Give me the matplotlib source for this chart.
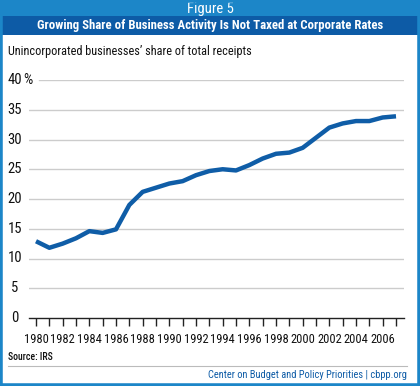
import matplotlib
matplotlib.use("Agg")
import matplotlib.pyplot as plt
import matplotlib.transforms as mtrans
from matplotlib.patches import Rectangle
from matplotlib.lines import Line2D
from matplotlib import font_manager

years = list(range(1980, 2008))
share = [12.9, 11.8, 12.5, 13.4, 14.6, 14.3, 14.9, 19.0, 21.2, 21.9, 22.6, 23.0,
         24.0, 24.7, 25.0, 24.8, 25.7, 26.8, 27.6, 27.8, 28.6, 30.3, 32.0, 32.7,
         33.1, 33.1, 33.7, 33.9]
yticks = [0, 5, 10, 15, 20, 25, 30, 35, 40]
xticks_major = list(range(1980, 2007, 2))

title_top = "Figure 5"
title = "Growing Share of Business Activity Is Not Taxed at Corporate Rates"
subtitle = "Unincorporated businesses\u2019 share of total receipts"
source = "Source: IRS"
credit = "Center on Budget and Policy Priorities | cbpp.org"

avail = {f.name for f in font_manager.fontManager.ttflist}
narrow = [f for f in ["Liberation Sans Narrow", "Roboto Condensed", "Open Sans Condensed"] if f in avail]
FONT = narrow + ["Liberation Sans", "DejaVu Sans"]
plt.rcParams['font.family'] = FONT

W, H = 420, 386
fig = plt.figure(figsize=(W / 100, H / 100), dpi=100)
fig.patch.set_facecolor("white")

def fx(px):
    return px / W

def fy(py):
    return 1 - py / H

LIGHT = "#1c86c8"
DARK = "#0d5ba6"
LINE = "#0f5da7"

# frame and bands
fig.patches.append(Rectangle((0, fy(16)), 1, 16 / H, transform=fig.transFigure,
                             facecolor=LIGHT, edgecolor="none", zorder=1))
fig.patches.append(Rectangle((0, fy(35)), 1, 19 / H, transform=fig.transFigure,
                             facecolor=DARK, edgecolor="none", zorder=1))
fig.patches.append(Rectangle((0, 0), 1, 1, transform=fig.transFigure, facecolor="none",
                             edgecolor=LIGHT, linewidth=4, zorder=10))
fig.text(0.5, fy(8.5), title_top, ha="center", va="center", color="white", fontsize=10.5)
fig.text(0.5, fy(26), title, ha="center", va="center", color="white", fontsize=9.2,
         fontweight="bold")
fig.text(fx(8), fy(51), subtitle, ha="left", va="center", color="#111111", fontsize=8.8)

# axes: 1980 at x=36, 2007 at x=396 ; 0 at y=318, 40 at y=80
x0, x1 = 29, 404
yb, yt = 318, 80
ax = fig.add_axes([fx(x0), fy(yb), (x1 - x0) / W, (yb - yt) / H])
ax.patch.set_alpha(0)
px_per_year = (396 - 36) / 27
xlim = (1980 - (36 - x0) / px_per_year, 2007 + (x1 - 396) / px_per_year)
ax.set_xlim(*xlim)
ax.set_ylim(0, 40)
for s in ["top", "right", "left"]:
    ax.spines[s].set_visible(False)
ax.spines["bottom"].set_color("#222222")
ax.spines["bottom"].set_linewidth(1.0)

for v in yticks[1:]:
    xmin = (39 - x0) / (x1 - x0) if v == 40 else 0
    ax.axhline(v, xmin=xmin, xmax=1, color="#cccccc", linewidth=1.0, zorder=1)

ax.plot(years, share, color=LINE, linewidth=3.2, solid_joinstyle="round",
        solid_capstyle="butt", zorder=3)

ax.set_yticks([])
ax.set_xticks(years, minor=True)
ax.set_xticks(xticks_major)
ax.set_xticklabels([str(y) for y in xticks_major], fontsize=9, color="#111111")
ax.tick_params(axis="x", which="both", direction="out", length=6, width=1,
               color="#222222", pad=4.5)

tr = mtrans.blended_transform_factory(fig.transFigure, ax.transData)
for v in yticks:
    ax.text(fx(15), v, str(v), transform=tr, ha="center", va="center", fontsize=10.5,
            color="#111111")
ax.text(fx(23), 40, "%", transform=tr, ha="left", va="center", fontsize=10.5,
        color="#111111")

# footer
fig.text(fx(8), fy(357), source, ha="left", va="center", fontsize=7, color="#111111",
         fontweight="medium")
fig.lines.append(Line2D([fx(8), fx(407)], [fy(366), fy(366)], transform=fig.transFigure,
                        color="#bbbbbb", linewidth=0.8))
fig.text(fx(407), fy(374.5), credit, ha="right", va="center", fontsize=7.5, color=DARK)

fig.savefig("out.png", dpi=100, facecolor="white")
